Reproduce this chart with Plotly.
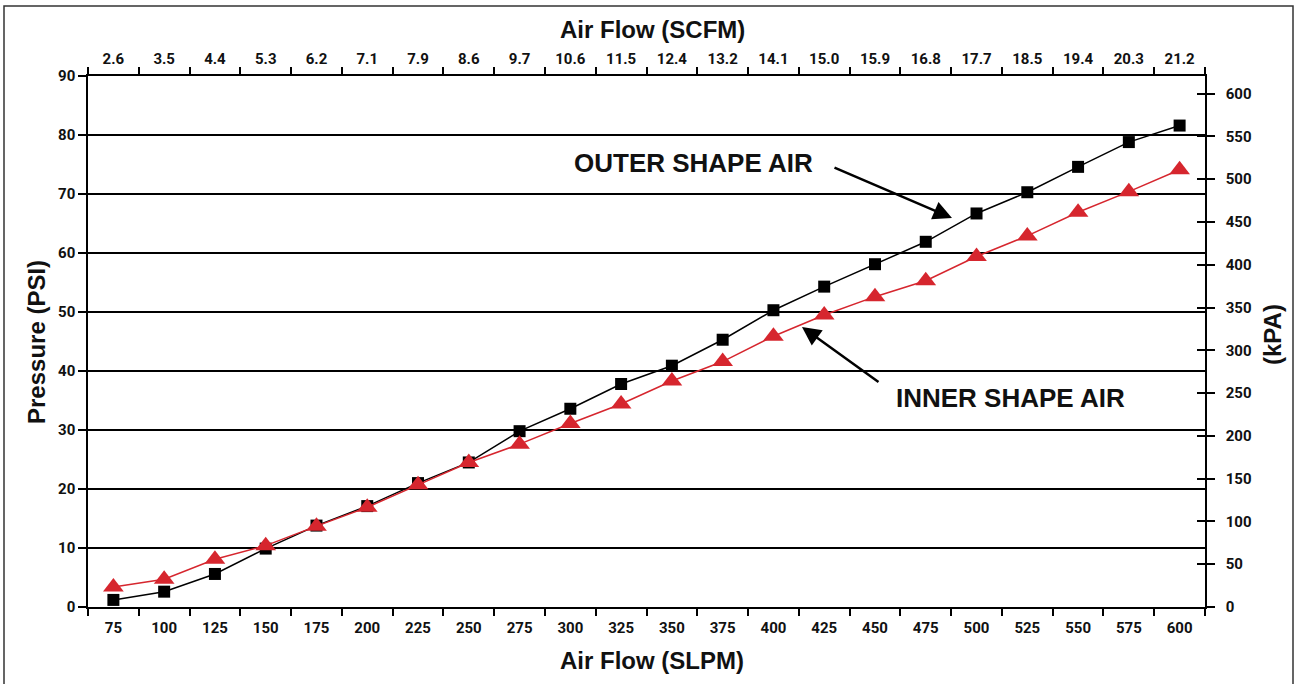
import plotly.graph_objects as go

slpm = ["75", "100", "125", "150", "175", "200", "225", "250", "275", "300", "325",
        "350", "375", "400", "425", "450", "475", "500", "525", "550", "575", "600"]
scfm = ["2.6", "3.5", "4.4", "5.3", "6.2", "7.1", "7.9", "8.6", "9.7", "10.6", "11.5",
        "12.4", "13.2", "14.1", "15.0", "15.9", "16.8", "17.7", "18.5", "19.4", "20.3", "21.2"]
outer_psi = [1.2, 2.6, 5.6, 9.9, 13.8, 17.1, 21.0, 24.5, 29.8, 33.6, 37.8,
             40.9, 45.3, 50.3, 54.3, 58.1, 61.9, 66.7, 70.3, 74.6, 78.8, 81.6]
inner_psi = [3.4, 4.7, 8.1, 10.4, 13.7, 16.9, 20.7, 24.5, 27.6, 31.1, 34.4,
             38.3, 41.6, 45.9, 49.5, 52.6, 55.3, 59.4, 62.9, 66.9, 70.4, 74.1]
psi_ticks = [0, 10, 20, 30, 40, 50, 60, 70, 80, 90]
kpa_ticks = [0, 50, 100, 150, 200, 250, 300, 350, 400, 450, 500, 550, 600]
PSI_TO_KPA = 6.895
PSI_MAX = 90

W, H = 1297, 684
ML, MR, MT, MB = 88, 92, 76, 77
PW, PH = W - ML - MR, H - MT - MB

def px(x):
    return (x - ML) / PW

def py(y):
    return (H - MB - y) / PH

TICKFONT = dict(family="Liberation Sans Narrow, Arial Narrow, Roboto, Liberation Sans", size=15,
                color="#111", weight="bold")
BOLD = dict(family="Liberation Sans, Arial", size=24, color="#111")
LABEL = dict(family="Liberation Sans, Arial", size=26, color="#111")
RED = "#d6262e"

fig = go.Figure()

fig.add_trace(go.Scatter(x=slpm, y=outer_psi, mode="lines+markers", name="OUTER SHAPE AIR",
                         line=dict(color="black", width=1.5),
                         marker=dict(symbol="square", size=12, color="black")))
fig.add_trace(go.Scatter(x=slpm, y=inner_psi, mode="lines+markers", name="INNER SHAPE AIR",
                         line=dict(color=RED, width=1.5),
                         marker=dict(symbol="triangle-up", size=18, color=RED)))
# invisible helper traces for secondary axes
fig.add_trace(go.Scatter(x=scfm, y=[v * PSI_TO_KPA for v in outer_psi], xaxis="x2", yaxis="y2",
                         mode="markers", marker=dict(opacity=0), hoverinfo="skip", showlegend=False))
fig.add_trace(go.Scatter(x=slpm, y=[v * PSI_TO_KPA for v in inner_psi], xaxis="x", yaxis="y3",
                         mode="markers", marker=dict(opacity=0), hoverinfo="skip", showlegend=False))

fig.update_layout(
    width=W, height=H,
    margin=dict(l=ML, r=MR, t=MT, b=MB),
    paper_bgcolor="white", plot_bgcolor="white",
    showlegend=False,
    xaxis=dict(type="category", categoryorder="array", categoryarray=slpm,
               range=[-0.5, len(slpm) - 0.5], tickson="boundaries",
               ticks="outside", ticklen=7, tickwidth=1.5, tickcolor="black",
               ticklabelstandoff=6,
               showline=True, linecolor="black", linewidth=2,
               showgrid=False, zeroline=False, tickfont=TICKFONT, fixedrange=True),
    xaxis2=dict(type="category", categoryorder="array", categoryarray=scfm,
                range=[-0.5, len(scfm) - 0.5], tickson="boundaries",
                overlaying="x", side="top", anchor="y",
                ticks="outside", ticklen=7, tickwidth=1.5, tickcolor="black",
                ticklabelstandoff=4,
                showline=True, linecolor="black", linewidth=2,
                showgrid=False, zeroline=False, tickfont=TICKFONT),
    yaxis=dict(range=[0, PSI_MAX], tickvals=psi_ticks, ticks="outside", ticklen=8,
               tickwidth=1.5, tickcolor="black",
               showline=True, linecolor="black", linewidth=1.5,
               showgrid=True, gridcolor="black", gridwidth=2, zeroline=False,
               tickfont=TICKFONT),
    yaxis2=dict(range=[0, PSI_MAX * PSI_TO_KPA], tickvals=kpa_ticks, overlaying="y",
                side="right", anchor="x", ticks="outside", ticklen=8, tickwidth=1.5,
                ticklabelstandoff=8,
                tickcolor="black", showline=True, linecolor="black", linewidth=1.5,
                showgrid=False, zeroline=False, tickfont=TICKFONT),
    yaxis3=dict(range=[0, PSI_MAX * PSI_TO_KPA], tickvals=kpa_ticks, overlaying="y",
                side="right", anchor="x", ticks="inside", ticklen=8, tickwidth=1.5,
                tickcolor="black", showline=False, showticklabels=False,
                showgrid=False, zeroline=False),
)

ann = [
    dict(text="<b>Air Flow (SCFM)</b>", x=px(652), y=py(30), font=BOLD),
    dict(text="<b>Air Flow (SLPM)</b>", x=px(652), y=py(660), font=BOLD),
    dict(text="<b>Pressure (PSI)</b>", x=px(36), y=py(342), textangle=-90, font=BOLD),
    dict(text="<b>(kPA)</b>", x=px(1272), y=py(335), textangle=-90, font=BOLD),
    dict(text="<b>OUTER SHAPE AIR</b>", x=px(693), y=py(163), font=LABEL),
    dict(text="<b>INNER SHAPE AIR</b>", x=px(1010), y=py(398), font=LABEL),
]
for a in ann:
    fig.add_annotation(xref="paper", yref="paper", showarrow=False,
                       xanchor="center", yanchor="middle", **a)

# arrows
fig.add_annotation(xref="paper", yref="paper", x=px(952), y=py(218), ax=-119, ay=-51,
                   axref="pixel", ayref="pixel", text="", showarrow=True,
                   arrowhead=2, arrowsize=1.5, arrowwidth=2.5, arrowcolor="black")
fig.add_annotation(xref="paper", yref="paper", x=px(802), y=py(327), ax=78, ay=56,
                   axref="pixel", ayref="pixel", text="", showarrow=True,
                   arrowhead=2, arrowsize=1.5, arrowwidth=2.5, arrowcolor="black")

# outer frame
fig.add_shape(type="rect", xref="paper", yref="paper",
              x0=px(4), x1=px(1293), y0=py(700), y1=py(6),
              line=dict(color="#333", width=1.5), layer="below")

fig.write_html("out.html", config={"displayModeBar": False},
               post_script="document.body.style.margin='0';")
